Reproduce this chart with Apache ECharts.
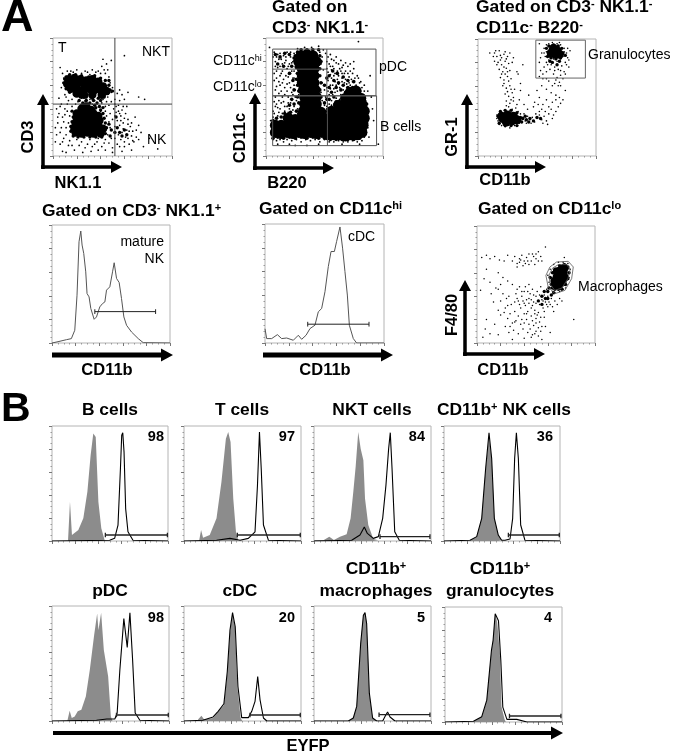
<!DOCTYPE html>
<html>
<head>
<meta charset="utf-8">
<style>html,body{margin:0;padding:0;background:#fff}#main{width:673px;height:753px}</style>
<script src="https://cdn.jsdelivr.net/npm/echarts@6/dist/echarts.min.js"></script>
</head>
<body>
<div id="main"></div>
<script>

// --- panel A dot plots: core = solid blobs, mid = blob fringe, dots = single events
const nkCore = [[13,65],[18,66],[23,65],[28,64],[33,65],[38,63],[12,61],[17,61],[22,62],[27,60],[32,61],[37,60],[42,59],[15,57],[20,57],[25,56],[30,57],[35,56],[40,56],[45,55],[20,53],[26,52],[33,52],[41,52],
  [24,40],[28,42],[32,39],[20,36],[24,36],[29,37],[34,36],[38,34],[20,32],[24,31],[29,32],[34,31],[39,30],[19,28],[23,27],[28,28],[33,27],[38,26],[18,24],[23,23],[28,24],[33,23],[38,22],[42,23],[19,20],[24,19],[29,20],[34,19],[40,19]];
const nkMid = [[11,67],[14,69],[19,69],[24,68],[30,67],[35,68],[40,66],[44,64],[47,60],[48,56],[46,53],[43,50],[38,49],[33,49],[28,50],[23,50],[18,52],[14,54],[11,57],[9,62],[10,65],[16,63],[47,64],[50,55],
  [22,47],[25,45],[28,47],[31,45],[34,47],[37,45],[40,47],[24,43],[29,44],[35,43],[39,42],[42,41],
  [16,38],[17,33],[16,29],[15,25],[15,21],[17,17],[21,16],[26,16],[31,16],[36,16],[41,16],[44,19],[45,24],[44,28],[43,32],[42,36],[40,39],[36,41],[47,27],[49,22],[48,17],[54,24],[56,20],[58,17],[60,22],[62,18],[52,20],[53,33]];
const nkDots = [[6,75],[9,66],[7,58],[10,52],[5,49],[12,72],[17,71],[24,70],[29,71],[33,73],[38,72],[41,76],[44,70],[47,67],[48,62],[50,58],[49,54],[46,50],[42,48],[38,49],[35,47],[31,48],[27,46],[24,49],[21,46],[23,43],[27,47],[33,44],[37,44],[41,45],[45,46],[52,48],[54,53],[56,56],[58,52],[60,48],[56,47],[63,54],[72,50],[77,48],[49,81],[45,78],[42,82],[60,85],
  [3,40],[5,36],[8,33],[4,28],[7,24],[3,18],[9,15],[6,10],[12,38],[14,34],[13,28],[15,22],[11,18],[14,13],[16,9],[20,14],[24,12],[27,7],[31,14],[35,10],[38,15],[41,8],[44,14],[47,11],[50,7],[46,18],[48,24],[47,29],[45,34],[44,38],[42,41],[48,36],[50,31],[51,40],[53,42],[55,38],[57,34],[54,30],[56,26],[59,28],[61,36],[63,31],[65,25],[62,22],[58,20],[55,18],[52,15],[57,14],[60,12],[63,15],[66,17],[70,22],[72,26],[66,28],[60,8],[54,10],[64,10],[68,12],[74,20],[69,33],[2,12],[8,4],[18,5],[32,4],[44,5],[58,4],[76,8],[81,15],[88,6],[66,5],[16,42],[12,44],[7,44],[36,40],[40,38],[30,43],[26,44],
  [8,70],[11,50],[13,47],[16,48],[19,44],[10,40],[9,29],[11,24],[10,35],[6,20],[13,9],[22,9],[29,10],[33,8],[37,12],[43,11],[49,15],[52,25],[55,43],[58,39],[60,32],[64,21],[67,21],[61,16],[63,27],[59,23],[56,36],[53,37],[52,34],[57,30],[59,42],[62,42],[46,73],[43,73],[40,70],[36,71],[31,69],[27,72],[20,73],[15,72],[52,44],[47,43],[44,42],[49,46],[67,13],[70,16],[72,14],[56,8],[50,3],[25,3],[11,3],[38,5],[6,42],[4,33],[2,24],[8,12]];
const nkGates = [[[52,0],[52,100]], [[0,44],[100,44]]];

const b220Core = [[8,20],[13,19],[18,20],[23,19],[28,20],[33,19],[38,20],[43,19],[48,20],[53,18],[58,18],[63,18],[68,17],[73,18],[78,18],[82,20],[8,26],[13,26],[18,26],[23,26],[28,26],[33,25],[38,26],[43,26],[48,25],[53,25],[58,24],[63,25],[68,25],[73,24],[78,25],[83,26],[19,32],[25,31],[30,32],[35,31],[40,32],[45,31],[50,32],[55,31],[60,32],[65,31],[70,31],[75,32],[80,31],[84,32],
  [32,38],[37,38],[42,37],[47,37],[56,38],[61,37],[66,38],[71,37],[76,38],[81,37],[84,38],[33,44],[38,44],[43,44],[62,43],[67,44],[72,44],[77,43],[82,44],[33,50],[38,50],[43,50],[68,49],[73,50],[78,50],[81,49],[32,56],[37,56],[42,56],[72,54],[77,55],[31,62],[36,62],[41,62],[31,68],[36,68],[41,68],[31,74],[36,74],[41,74],[28,80],[33,80],[38,80],[43,80],[30,85],[35,86],[40,85]];
const b220Mid = [[27,88],[25,85],[27,80],[26,75],[27,70],[26,65],[27,60],[28,55],[27,50],[28,45],[46,85],[47,80],[46,74],[46,68],[47,62],[46,56],[47,50],[45,90],[40,90],[35,90],[30,90],[28,84],
  [54,68],[58,64],[62,62],[66,60],[70,58],[74,58],[78,56],[60,58],[64,56],[68,54],[54,58],[56,54],[58,50],[60,46],[54,48],[82,50],[86,44],[86,36],[86,28],[85,20],
  [6,15],[10,16],[15,15],[20,16],[25,15],[30,16],[35,15],[40,16],[45,15],[50,15],[55,14],[60,14],[65,14],[70,14],[75,14],[80,15],[6,30],[9,32],[13,33],[16,36],[21,37],[26,38],[28,36],
  [8,86],[12,84],[16,87],[20,86],[24,83],[10,78],[15,76],[22,76],[20,70],[23,64],[24,56],[22,48],[20,43],[24,44],[50,45],[52,48],[50,60],[52,66],[57,72],[61,70],[66,67],[70,64],[75,63]];
const b220Dots = [[7,88],[9,84],[12,87],[15,85],[18,88],[21,84],[24,87],[8,80],[11,82],[14,78],[17,81],[20,78],[23,80],[26,84],[25,76],[22,72],[18,74],[14,72],[10,75],[7,70],[9,66],[12,68],[15,65],[19,67],[23,66],[26,70],[27,64],[24,60],[20,62],[16,58],[12,60],[8,56],[11,53],[14,50],[18,55],[22,54],[25,56],[28,52],[26,47],[22,48],[19,45],[16,42],[13,45],[10,41],[7,46],[20,40],[24,42],[27,40],[29,44],[29,58],[28,69],[46,88],[48,84],[47,78],[49,73],[46,68],[48,62],[50,56],[47,54],[48,47],[50,43],[52,40],[54,44],[56,47],[58,44],[60,49],[57,52],[54,52],[52,58],[55,60],[58,57],[61,55],[64,52],[66,56],[69,58],[72,60],[74,63],[77,60],[79,57],[81,55],[83,52],[85,47],[86,42],[87,37],[87,30],[85,22],[84,16],[87,24],[53,64],[56,66],[59,63],[62,61],[65,63],[68,65],[71,67],[74,70],[76,66],[53,71],[56,73],[59,70],[62,68],[65,70],[68,72],[54,78],[57,76],[60,79],[63,74],[66,77],[70,76],[78,68],[81,63],[84,60],[87,55],[53,84],[56,82],[60,84],[64,81],[75,80],[90,50],[91,40],[89,68],[92,30],
  [6,14],[9,13],[12,14],[15,12],[18,14],[22,13],[26,14],[30,12],[34,14],[38,13],[42,14],[46,12],[50,14],[54,12],[58,12],[62,13],[66,12],[70,12],[74,13],[78,12],[82,13],[10,10],[20,10],[35,9],[45,10],[65,10],[80,10],[88,16],[7,36],[10,34],[14,36],[4,30],[3,92],[79,97],[96,10],[25,9],
  [6,84],[10,86],[13,82],[17,84],[21,88],[24,81],[8,76],[12,76],[16,79],[19,76],[22,79],[9,72],[13,70],[17,68],[21,70],[24,72],[7,64],[11,63],[14,62],[18,61],[21,58],[24,66],[9,59],[13,55],[16,52],[19,50],[23,52],[8,50],[11,47],[15,46],[18,42],[21,45],[25,50],[8,42],[12,40],[16,38],[19,37],[23,39],[6,38],[9,44],[11,37],[15,33],[6,33],[51,50],[53,55],[55,57],[57,60],[60,60],[63,58],[67,62],[71,62],[73,65],[69,61],[65,66],[61,65],[58,68],[55,69],[52,74],[55,76],[58,74],[61,72],[64,72],[67,70],[70,70],[72,72],[75,74],[52,80],[55,86],[58,81],[62,78],[65,75],[68,79],[72,78],[51,87],[49,90],[45,93],[39,92],[33,92],[27,91],[80,62],[82,58],[84,55],[79,66],[76,59],[73,57],[71,54],[66,50],[63,48],[59,54],[56,43],[52,42]];
const b220Gates = [[[5.7,90.6],[94,90.6],[94,51],[5.7,51],[5.7,90.6]], [[52,90.6],[52,51]], [[5.7,73.6],[52,73.6]], [[5.7,51],[94.5,51],[94.5,8.8],[5.7,8.8],[5.7,51]], [[52.5,51],[52.5,8.8]]];

const gr1Core = [[21,32],[25,35],[30,34],[24,29],[29,30],[33,31],[20,34],[26,32],[64,90],[67,90],[62,88],[66,87],[69,87],[64,92]];
const gr1Mid = [[18,28],[17,34],[19,38],[23,39],[28,39],[33,37],[36,33],[37,29],[33,26],[28,26],[23,26],[38,32],[41,31],[44,32],[47,30],[50,33],[53,32],[40,34],[43,29],
  [58,92],[60,88],[59,85],[62,84],[66,83],[70,84],[72,88],[71,92],[68,94],[64,95],[60,94],[74,86],[63,80],[67,78],[69,81],[61,81]];
const gr1Dots = [[14,88],[16,85],[18,90],[20,84],[22,87],[25,85],[27,88],[14,81],[17,80],[20,78],[23,81],[26,79],[29,80],[18,74],[21,72],[24,75],[27,73],[19,67],[22,65],[25,68],[28,66],[21,60],[24,58],[27,60],[23,53],[26,51],[29,54],[31,57],[24,47],[27,45],[30,47],[33,44],[26,42],[29,40],[34,38],[36,36],[38,33],[40,30],[42,34],[44,31],[46,33],[48,29],[50,32],[52,35],[54,31],[56,34],[58,30],[60,36],[62,40],[64,35],[66,38],[68,42],[70,45],[72,48],[55,44],[58,48],[52,50],[48,46],[50,56],[54,60],[58,57],[62,54],[66,52],[70,60],[74,56],[33,72],[38,78],[36,62],[43,52],[16,35],[17,30],[18,27],[20,26],[23,25],[27,24],[31,26],[35,28],[16,32],[37,32],[39,36],[41,28],[45,28],[49,36],[10,88],[30,84],[34,70],
  [52,96],[56,92],[58,95],[60,96],[63,97],[67,96],[70,95],[73,92],[75,88],[76,84],[74,80],[71,77],[68,74],[65,76],[62,78],[60,82],[57,85],[54,88],[58,89],[72,85],[70,83],[67,81],[64,83],[61,84],[59,78],[56,76],[53,73],[52,68],[55,70],[58,72],[61,74],[64,70],[67,67],[70,69],[73,72],[77,76],[65,62],[68,60],[52,80],[78,90],
  [13,85],[15,90],[19,86],[23,89],[24,83],[16,78],[19,82],[22,76],[25,72],[20,70],[23,70],[26,64],[22,62],[25,55],[28,57],[30,50],[24,43],[28,48],[32,41],[60,64],[63,60],[66,65],[69,63],[72,66],[55,66],[58,66],[65,73],[70,73],[74,70],[47,42],[51,44],[54,40],[57,38],[60,42],[63,46],[66,48],[69,50],[52,38],[55,28],[59,27],[63,32],[35,48],[39,44],[42,40],[36,56],[61,91],[73,89],[69,97],[56,88],[53,84],[58,80],[75,78],[77,82],[76,92]];
const gr1Gates = [[[49,99],[91,99],[91,66.6],[49,66.6],[49,99]]];

const f480Core = [[67,50],[69,53],[71,56],[73,60],[68,57],[72,52],[74,64],[71,62],[66,53],[69,49],[74,56],[70,59],[68,61]];
const f480Mid = [[62,56],[63,50],[64,47],[66,46],[69,46],[72,46],[75,50],[77,55],[78,60],[77,65],[74,67],[70,66],[66,63],[64,60],[60,44],[57,44],[60,38],[63,41],[55,40],[58,38],[52,36],[55,33],[61,47],[65,43]];
const f480Dots = [[60,58],[62,63],[65,67],[69,69],[73,69],[77,68],[79,63],[78,56],[76,50],[73,46],[70,44],[66,43],[62,47],[61,52],[63,56],[75,47],[78,60],[64,44],[59,46],[57,41],[60,40],[63,38],[55,37],[58,35],[53,33],[56,30],[60,31],[50,40],[48,35],[46,30],[49,28],[52,26],[44,38],[41,32],[43,27],[39,36],[37,30],[40,25],[35,23],[38,20],[42,20],[46,23],[50,21],[53,18],[48,15],[45,12],[50,10],[52,6],[47,7],[43,9],[39,12],[35,8],[31,11],[27,9],[24,14],[30,17],[26,21],[32,27],[29,33],[24,30],[20,36],[27,40],[33,42],[22,42],[12,42],[16,47],[11,52],[14,35],[8,20],[7,12],[11,8],[18,7],[5,5],[30,3],[40,4],[55,3],[62,9],[58,14],[65,27],[68,33],[72,36],[57,22],[54,48],[47,46],[44,50],[40,44],[36,48],[30,50],[26,53],[22,56],[18,60],
  [30,70],[32,74],[34,68],[36,72],[38,75],[40,70],[42,73],[44,76],[46,70],[48,74],[50,72],[52,78],[54,74],[55,70],[34,65],[39,66],[44,67],[49,67],[4,73],[8,75],[11,72],[15,74],[19,71],[23,70],[26,75],[8,63],[6,55],[3,45],[74,73],[58,82],[82,20],[20,24],[15,16],[35,36],
  [44,34],[46,37],[48,41],[51,44],[53,41],[56,36],[59,33],[61,35],[50,34],[47,32],[45,42],[42,37],[40,34],[38,40],[36,33],[34,38],[32,35],[43,44],[41,48],[38,44],[34,46],[49,25],[47,19],[44,16],[42,25],[40,17],[37,16],[33,19],[50,17],[52,13],[49,8],[46,5],[54,10],[55,14],[51,24],[54,22],[57,27],[62,33],[64,31],[66,36],[70,38],[36,69],[41,68],[47,76],[50,76],[43,70],[37,71],[52,70],[26,32],[23,26],[28,25],[25,38],[18,28],[32,18],[28,14],[18,46],[20,50]];
const f480Gates = [[[58.4,57.8],[61.8,65],[67.4,69.2],[77.3,69.8],[81.6,65],[80.2,55],[74.5,45],[66,42.2],[60.3,47.9],[58.4,57.8]], [[61,58],[64,64],[69,67],[76,67],[79,63],[77,55],[72,47],[66,45],[62,50],[61,58]]];

// --- panel A histograms
const nkHist = [[0,0],[5.1,1.1],[12.2,2.8],[16.4,3.7],[19.3,10.8],[21.2,40.5],[22.9,85.8],[24.4,94.9],[25.5,83],[26.9,75.9],[28.6,60.3],[29.7,41.9],[31.4,39.1],[32.9,29.2],[35.7,20.1],[37.7,22.1],[39.1,20.7],[40.5,30.6],[42.8,33.4],[44.8,34.8],[46.2,44.8],[49,47.6],[51.3,60.3],[52.7,68],[54.7,54.7],[56.9,51.3],[58.9,37.7],[60.9,22.1],[63.2,15],[67.4,9.3],[73.1,3.7],[77.3,0.3],[100,0]];
const nkMarker = [36.3, 87.8, 26.6];
const cdcHist = [[0,12],[1.4,3.7],[5.6,3.7],[10.4,7],[14,3.7],[18.2,4.2],[23.8,2.3],[28,6.5],[30.8,3.1],[34.5,6.5],[37.8,12.1],[42,15],[44.8,26.2],[47.6,29],[50.4,43.1],[53.2,64.2],[55.5,76.9],[58.3,76.9],[60.2,85.4],[63,97.5],[65.2,79.7],[67.2,60],[69.2,40.3],[70.9,14.9],[74.2,3.7],[77,0],[100,0]];
const cdcMarker = [35.9, 87.4, 15.8];

// --- panel B histograms: control (grey) and EYFP (black outline)
const bCellGrey = [[13.8,0],[15.5,34.1],[17.2,5.2],[22.7,9.5],[27,19.7],[30.5,42.8],[33.3,74.6],[35.6,93.4],[37.7,90.5],[40,34],[42.5,11],[45.4,0.6],[46,0]];
const bCellLine = [[0,0],[49.7,0.6],[54,2.3],[56.9,13.9],[59,63],[60.1,92],[61,94.2],[62.1,77.5],[63.5,28],[65.5,8],[69.8,0.6],[100,0]];
const tCellGrey = [[12.9,0],[14.6,9.5],[16.3,2.9],[22,5.2],[27.8,19.7],[32,51.4],[35.8,89],[37.8,94.8],[39.8,86],[42.1,37],[44.4,8],[46.4,0.6],[47,0]];
const tCellLine = [[0,0],[27.8,0.6],[39.3,2.3],[47.9,0.6],[55,2.3],[60.7,8],[62.8,48.5],[64.5,94.8],[66,63],[67.9,13.9],[72.2,0.6],[100,0]];
const nktGrey = [[0.9,0.6],[8,0.6],[13.1,3.8],[17,0.9],[22.2,3.8],[27.9,5.8],[31.3,19.7],[33.6,42.8],[35.6,64.5],[37.8,94.8],[39.9,80.3],[42.2,70.2],[43.6,37],[46.4,13.9],[50.7,1.7],[55,0.6],[56,0]];
const nktLine = [[0,0],[32.2,0.6],[39.3,5.2],[43,12.1],[45.6,6.6],[50.7,2.3],[55,3.8],[58.7,19.7],[61.5,48.6],[63.8,80.3],[65.2,94.2],[66.7,63],[69,8],[72.9,0.6],[100,0]];
const nkCellGrey = [[22.4,0.6],[28.2,3.8],[32.5,19.7],[35.9,63],[38.8,90.5],[41.1,71.7],[43.4,19.7],[46.8,5.2],[49.7,0.6],[50,0]];
const nkCellLine = [[0,0],[22.4,0.6],[28.2,3.8],[32.5,19.7],[35.9,63],[38.8,94],[41.1,71.7],[43.4,19.7],[46.8,5.2],[49.7,0.6],[52.6,0.6],[56.9,1.7],[59.2,19.7],[60.9,71.7],[62.4,94.2],[64.1,71.7],[66.1,13.9],[69.8,0.6],[100,0]];
const pdcGrey = [[13.1,0],[15.1,8.9],[16.9,2.6],[19.4,4],[22,8.4],[25.1,9.8],[28.9,21.3],[32.3,44.4],[36,74.6],[38.6,93.4],[39.7,79],[42,94.2],[44.3,61.7],[48,38.6],[50.3,4],[51.7,0]];
const pdcLine = [[0,0],[38,0.6],[46.9,1.7],[53.7,1.7],[55.7,6.9],[58,44.4],[61.4,89],[64.3,64],[66.6,94.2],[68.9,53],[71.1,6.9],[75.1,0.6],[100,0]];
const cdcGrey = [[12,1.2],[14.9,4.6],[17.2,1.2],[24.9,2.6],[30.7,9.8],[34.1,14],[37,41.5],[39.3,76],[41.3,93.4],[43.6,81.8],[45.6,30],[48.4,2.6],[49.9,0]];
const cdcLine = [[0,0],[16,0.6],[24.9,3.5],[29.2,8.4],[34.1,15],[37,43],[39.3,79],[41.5,94.2],[43.8,81.8],[46.1,30],[49.3,2.9],[55,2.9],[57.9,8.4],[60.7,17],[63,38.6],[65,18.4],[67.9,2.6],[70.8,0],[100,0]];
const macGrey = [[29.3,0],[33.6,2.6],[36.5,12.7],[39.9,67.4],[42.2,92],[43.6,94.2],[45,84.7],[47.3,24.2],[50.1,2.6],[53.6,0]];
const macLine = [[0,0],[29.3,0],[33.6,2.6],[36.5,12.7],[39.9,67.4],[42.2,92],[43.6,94.2],[45,84.7],[47.3,24.2],[50.1,2.6],[53.6,0],[58.7,0],[60.7,4],[62.9,7.8],[65,3.5],[69.2,0],[100,0]];
const graGrey = [[24.3,0.6],[31.4,4.6],[35.7,19],[39.7,62.4],[41.1,71],[42.9,94.2],[44.6,87],[46.9,59.5],[48.3,13.3],[50.9,2.3],[52,0]];
const graLine = [[0,0],[24.3,0.6],[31.4,4.6],[35.7,19],[39.7,62.4],[41.1,71],[42.9,94.2],[45.7,88],[47.7,53.7],[49.4,13],[52.9,2.3],[61.4,2.3],[70,0],[100,0]];
const bMarkers = [[46,99.5,5.2],[45.6,99.4,5.2],[56.4,99.1,3.8],[55.5,99.4,5.2],[55.1,99.4,5.2],[56.4,99.4,5.2],[55.6,99.1,5.5],[55.1,99.1,5.2]];
const bPercents = ['98','97','84','36','98','20','5','4'];

const BOLD = '"Liberation Sans", Arial, sans-serif';
const panels = [
  [53,38,119,118],[266,38,117,118],[478,39,118,117],
  [52,225,118,118],[265,224,119,119],[477,226,118,117],
  [52,426,116,115],[184,426,117,115],[314,426,117,115],[444,426,116,115],
  [52,606,117,115],[184,606,117,115],[314,606,117,115],[445,607,117,115]
];
const grid = panels.map(p => ({left:p[0], top:p[1], width:p[2], height:p[3], show:true, borderColor:'#b4b4b4', borderWidth:1, backgroundColor:'#fff'}));
const axisBase = {min:0, max:100, interval:20, axisLine:{show:false}, axisLabel:{show:false}, splitLine:{show:false},
  axisTick:{length:3, lineStyle:{color:'#777', width:1}}, minorTick:{show:true, splitNumber:4, length:1.5, lineStyle:{color:'#999'}}, minorSplitLine:{show:false}};
const xAxis = panels.map((p,i) => Object.assign({type:'value', gridIndex:i}, axisBase));
const yAxis = panels.map((p,i) => Object.assign({type:'value', gridIndex:i}, axisBase));

const series = [];
function cloud(g, pts, size) {
  series.push({type:'scatter', xAxisIndex:g, yAxisIndex:g, data:pts, symbolSize:size, itemStyle:{color:'#000', opacity:1}, silent:true, large:false});
}
function path(g, pts, color, width) {
  series.push({type:'line', xAxisIndex:g, yAxisIndex:g, data:pts, symbol:'none', lineStyle:{color:color, width:width}, silent:true, z:4});
}
function fill(g, pts) {
  series.push({type:'line', xAxisIndex:g, yAxisIndex:g, data:pts, symbol:'none', lineStyle:{width:0}, areaStyle:{color:'#8c8c8c', opacity:1}, silent:true, z:2});
}
function marker(g, m, color, w) {
  path(g, [[m[0],m[2]],[m[1],m[2]]], color, w);
  path(g, [[m[0],m[2]-2],[m[0],m[2]+2]], color, w);
  path(g, [[m[1],m[2]-2],[m[1],m[2]+2]], color, w);
}

cloud(0, nkCore, 8.5); cloud(0, nkMid, 3.4); cloud(0, nkDots, 1.7); nkGates.forEach(l => path(0, l, '#444', 1));
cloud(1, b220Core, 11); cloud(1, b220Mid, 3.6); cloud(1, b220Dots, 1.8); b220Gates.forEach(l => path(1, l, '#555', 1));
cloud(2, gr1Core, 9); cloud(2, gr1Mid, 3.4); cloud(2, gr1Dots, 1.6); gr1Gates.forEach(l => path(2, l, '#666', 1));
path(3, nkHist, '#555', 1); marker(3, nkMarker, '#222', 1);
path(4, cdcHist, '#555', 1); marker(4, cdcMarker, '#222', 1);
cloud(5, f480Core, 9); cloud(5, f480Mid, 3.4); cloud(5, f480Dots, 1.5); f480Gates.forEach(l => path(5, l, '#555', 0.8));

const bPairs = [[bCellGrey,bCellLine],[tCellGrey,tCellLine],[nktGrey,nktLine],[nkCellGrey,nkCellLine],[pdcGrey,pdcLine],[cdcGrey,cdcLine],[macGrey,macLine],[graGrey,graLine]];
bPairs.forEach((pair,i) => {
  fill(6+i, pair[0]);
  path(6+i, pair[1], '#000', 1.1);
  marker(6+i, bMarkers[i], '#222', 1.3);
});

// labels and arrows sit on top of the grids, in page pixels
function text(x, y, str, o) {
  o = o || {};
  const size = o.size || 14, weight = o.bold ? 'bold ' : '';
  const supSize = Math.round(size * 0.62);
  return {type:'text', x:x, y:y, rotation:o.rot || 0, z:20, silent:true, style:{
    text:str, font:weight + size + 'px ' + BOLD, fill:o.color || '#000',
    align:o.align || 'left', verticalAlign:'middle', textAlign:o.align || 'left', textVerticalAlign:'middle',
    rich:{s:{font:weight + supSize + 'px ' + BOLD, verticalAlign:'top', fill:o.color || '#000'}}
  }};
}
function arrowH(x0, x1, y, t, hh, hl) {
  return {type:'polygon', z:15, silent:true, shape:{points:[[x0,y-t/2],[x1-hl,y-t/2],[x1-hl,y-hh/2],[x1,y],[x1-hl,y+hh/2],[x1-hl,y+t/2],[x0,y+t/2]]}, style:{fill:'#000'}};
}
function arrowV(x, y0, y1, t, hh, hl) {
  return {type:'polygon', z:15, silent:true, shape:{points:[[x-t/2,y0],[x-t/2,y1+hl],[x-hh/2,y1+hl],[x,y1],[x+hh/2,y1+hl],[x+t/2,y1+hl],[x+t/2,y0]]}, style:{fill:'#000'}};
}
const T = {bold:true, size:17.4}, L = {size:14}, AX = {bold:true, size:16.5};
const VERT = Object.assign({rot:Math.PI/2, align:'center'}, AX);
const CEN = Object.assign({align:'center'}, T), PCT = {bold:true, size:14.5, align:'right'};
const AXC = Object.assign({align:'center'}, AX);
const graphic = [
  text(1,19,'A',{bold:true,size:45}), text(1,410,'B',{bold:true,size:41}),
  arrowV(43,169,94,3.5,12,11), arrowH(41,122,167,3.5,12,11), text(28,137,'CD3',VERT), text(78,183,'NK1.1',AXC),
  arrowV(255,170,93,3.5,12,11), arrowH(253,334,168,3.5,12,11), text(240,138,'CD11c',VERT), text(287,183,'B220',AXC),
  arrowV(467,169,94,3.5,12,11), arrowH(465,546,167,3.5,12,11), text(452,137,'GR-1',VERT), text(505,180,'CD11b',AXC),
  arrowH(52,173,355,5,13,12), text(107,370,'CD11b',AXC),
  arrowH(263,393,355,5,13,12), text(325,370,'CD11b',AXC),
  arrowV(465,356,280,3.5,12,11), arrowH(463,545,354,3.5,12,11), text(452,315,'F4/80',VERT), text(503,370,'CD11b',AXC),
  arrowH(53,563,733,4,13,12), text(308,746,'EYFP',AXC),

  text(272,7,'Gated on',T), text(272,28,'CD3{s|-} NK1.1{s|-}',T),
  text(476,7,'Gated on CD3{s|-} NK1.1{s|-}',T), text(476,28,'CD11c{s|-} B220{s|-}',T),
  text(42,211,'Gated on CD3{s|-} NK1.1{s|+}',T), text(259,209,'Gated on CD11c{s|hi}',T), text(478,209,'Gated on CD11c{s|lo}',T),

  text(58,48,'T',L), text(170,52,'NKT',{size:14,align:'right'}), text(147,140,'NK',L),
  text(213,61,'CD11c{s|hi}',L), text(213,87,'CD11c{s|lo}',L), text(379,67,'pDC',L), text(380,127,'B cells',L),
  text(588,55,'Granulocytes',L), text(578,287,'Macrophages',L),
  text(164,242,'mature',{size:14,align:'right'}), text(164,259,'NK',{size:14,align:'right'}), text(348,237,'cDC',L),

  text(110,410,'B cells',CEN), text(242,410,'T cells',CEN), text(372,410,'NKT cells',CEN), text(504,410,'CD11b{s|+} NK cells',CEN),
  text(110,591,'pDC',CEN), text(240,591,'cDC',CEN), text(376,569,'CD11b{s|+}',CEN), text(376,591,'macrophages',CEN),
  text(500,569,'CD11b{s|+}',CEN), text(500,591,'granulocytes',CEN),

  text(164,437,bPercents[0],PCT), text(295,437,bPercents[1],PCT), text(425,437,bPercents[2],PCT), text(553,437,bPercents[3],PCT),
  text(164,618,bPercents[4],PCT), text(295,618,bPercents[5],PCT), text(425,618,bPercents[6],PCT), text(552,618,bPercents[7],PCT)
];

const chart = echarts.init(document.getElementById('main'), null, {renderer:'canvas'});
chart.setOption({animation:false, backgroundColor:'#fff', grid:grid, xAxis:xAxis, yAxis:yAxis, series:series, graphic:graphic});
</script>
</body>
</html>
